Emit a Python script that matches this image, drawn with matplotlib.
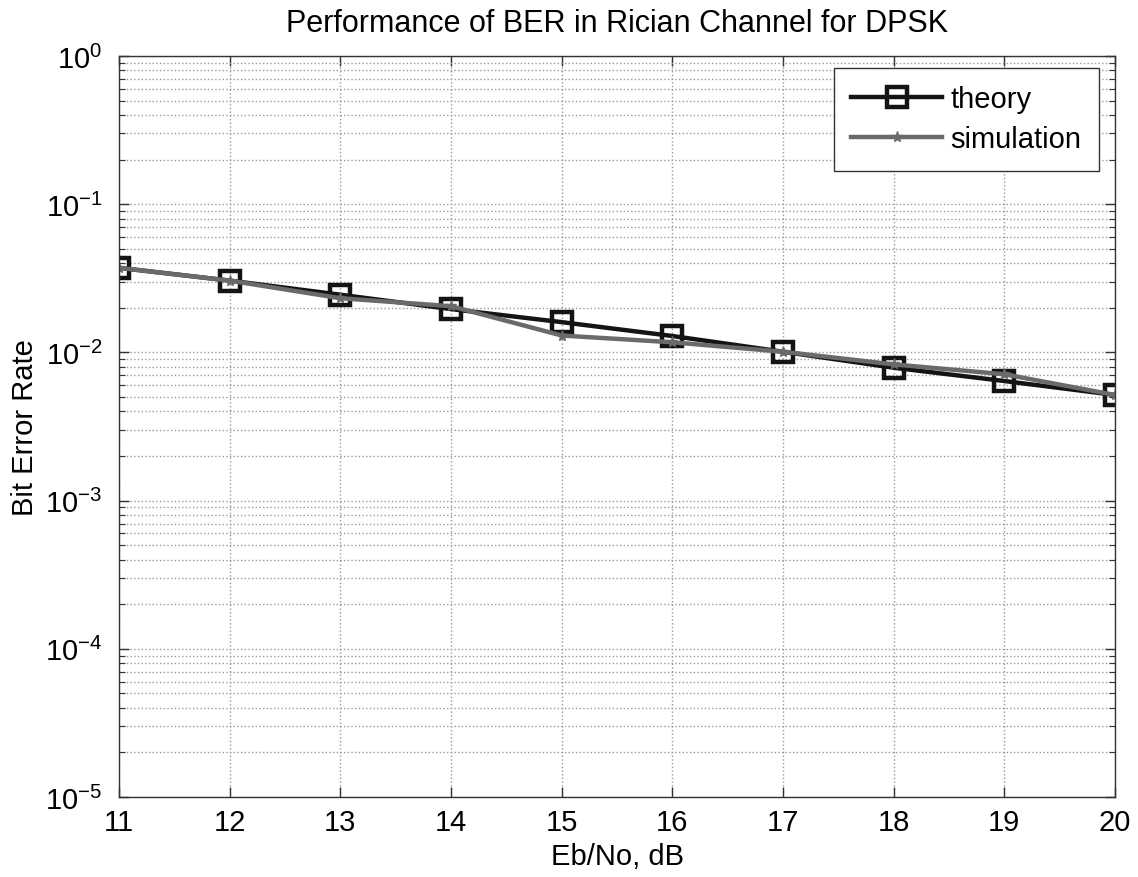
"""
DPSK over a Rician channel: theoretical vs simulated BER
"""
import matplotlib
matplotlib.use('Agg')
import matplotlib.pyplot as plt
from matplotlib.ticker import LogLocator, NullFormatter

plt.rcParams['font.family'] = ['Liberation Sans', 'DejaVu Sans']
plt.rcParams['mathtext.fontset'] = 'custom'
plt.rcParams['mathtext.rm'] = 'Liberation Sans'
plt.rcParams['mathtext.it'] = 'Liberation Sans'
plt.rcParams['axes.unicode_minus'] = False

# Eb/No sweep in dB
ebno_db = [11, 12, 13, 14, 15, 16, 17, 18, 19, 20]
# theoretical BER
ber_theory = [0.0372, 0.0305, 0.0245, 0.0196, 0.0160, 0.0129, 0.0101, 0.00788, 0.00641, 0.00516]
# simulated BER
ber_sim = [0.0372, 0.0305, 0.0232, 0.0205, 0.0130, 0.0117, 0.0101, 0.00830, 0.00712, 0.00516]

fig = plt.figure(figsize=(11.38, 8.78), dpi=100)
ax = fig.add_axes([0.1046, 0.0911, 0.8752, 0.844])

ax.semilogy(ebno_db, ber_theory, color='#141414', linewidth=3.2, marker='s',
            markersize=14, markerfacecolor='none', markeredgewidth=3.2, label='theory')
ax.semilogy(ebno_db, ber_sim, color='#6a6a6a', linewidth=3.2, marker='*',
            markersize=8, label='simulation')

ax.set_xlim(11, 20)
ax.set_ylim(1e-5, 1e0)
ax.set_xticks(ebno_db)
ax.yaxis.set_major_locator(LogLocator(base=10, numticks=10))
ax.yaxis.set_minor_locator(LogLocator(base=10, subs=range(2, 10), numticks=20))
ax.yaxis.set_minor_formatter(NullFormatter())

ax.grid(True, which='major', linestyle=':', color='#999999', linewidth=1.0)
ax.grid(True, which='minor', axis='y', linestyle=':', color='#999999', linewidth=1.0)

ax.tick_params(which='both', direction='in', top=True, right=True, labelsize=21,
               color='#333333')
ax.tick_params(which='major', length=7, width=1)
ax.tick_params(which='minor', length=4, width=0.8)
ax.tick_params(axis='x', which='major', pad=8)
ax.tick_params(axis='y', which='major', pad=12)
for s in ax.spines.values():
    s.set_color('#333333')
    s.set_linewidth(1.0)

ax.set_title('Performance of BER in Rician Channel for DPSK', fontsize=22, pad=18)
ax.set_xlabel('Eb/No, dB', fontsize=21, labelpad=4)
ax.set_ylabel('Bit Error Rate', fontsize=21, labelpad=4)

leg = ax.legend(loc='upper right', fontsize=21, handlelength=3.1, handletextpad=0.3,
                borderpad=0.6, borderaxespad=0.0, fancybox=False, framealpha=1,
                edgecolor='#333333', bbox_to_anchor=(0.984, 0.984), labelspacing=0.4)
leg.get_frame().set_linewidth(1.0)

plt.savefig('out.png', dpi=100)
